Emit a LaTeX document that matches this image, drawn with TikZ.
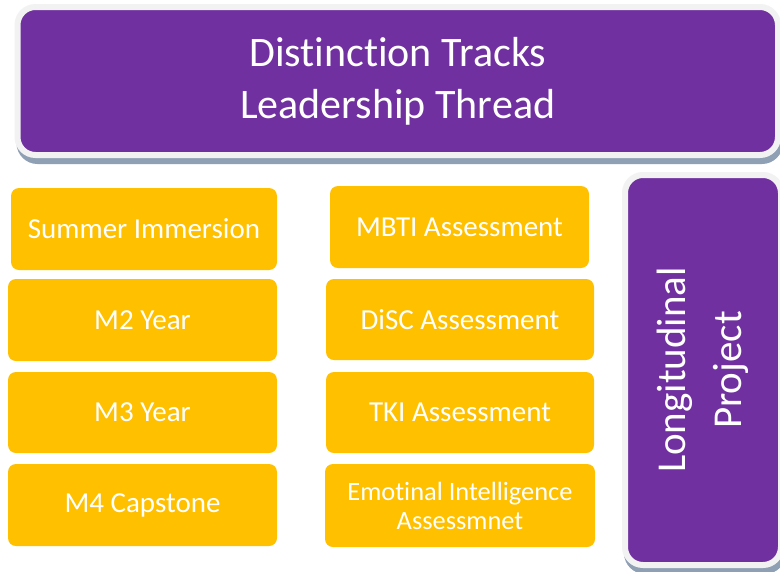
\documentclass[tikz,border=0pt]{standalone}
\usepackage{fontspec}
\setmainfont[Ligatures=NoCommon]{Carlito}

\definecolor{thread}{HTML}{7030A0}
\definecolor{track}{HTML}{FFC000}
\definecolor{rim}{HTML}{F2F2F2}
\definecolor{rimshadow}{HTML}{8FA0B5}

\tikzset{x=1pt, y=-1pt,
    tile/.style={fill=track, text=white, rounded corners=8pt, inner sep=0pt,
        align=center, minimum height=82pt,
        font=\fontsize{29}{33}\selectfont},
    header/.style={fill=thread, draw=rim, line width=6pt, rounded corners=18pt,
        text=white, align=center, inner sep=0pt,
        preaction={draw=rimshadow, fill=rimshadow,
            transform canvas={xshift=2pt, yshift=-6pt}}},
    }

\begin{document}
\begin{tikzpicture}
	\clip (0,0) rectangle (780,571);
	\fill[white] (0,0) rectangle (780,571);
	% top banner
	\node[header, minimum width=760.5pt, minimum height=148pt,
		font=\fontsize{42}{52}\selectfont] (tracks) at (397.75,81)
		{Distinction Tracks\\Leadership Thread};
	% side bar
	\node[header, rotate=90, minimum width=390pt, minimum height=156pt,
		font=\fontsize{41}{56}\selectfont] (project) at (703,370)
		{Longitudinal\\Project};
	% year column
	\node[tile, minimum width=266pt] (summer) at (144,229) {Summer Immersion};
	\node[tile, minimum width=269pt] (mtwo) at (142.5,320) {M2 Year};
	\node[tile, minimum width=269pt, minimum height=81pt] (mthree) at (142.5,412.5) {M3 Year};
	\node[tile, minimum width=269pt] (mfour) at (142.5,505) {M4 Capstone};
	% assessment column
	\node[tile, minimum width=259pt] (mbti) at (459.5,227) {MBTI Assessment};
	\node[tile, minimum width=268pt, minimum height=81pt] (disc) at (460,319.5) {DiSC Assessment};
	\node[tile, minimum width=268pt, minimum height=81pt] (tki) at (460,412.5) {TKI Assessment};
	\node[tile, minimum width=270pt, minimum height=83pt,
		font=\fontsize{26.4}{29}\selectfont] (emotion) at (460,505.5)
		{Emotinal Intelligence\\Assessmnet};
\end{tikzpicture}
\end{document}
